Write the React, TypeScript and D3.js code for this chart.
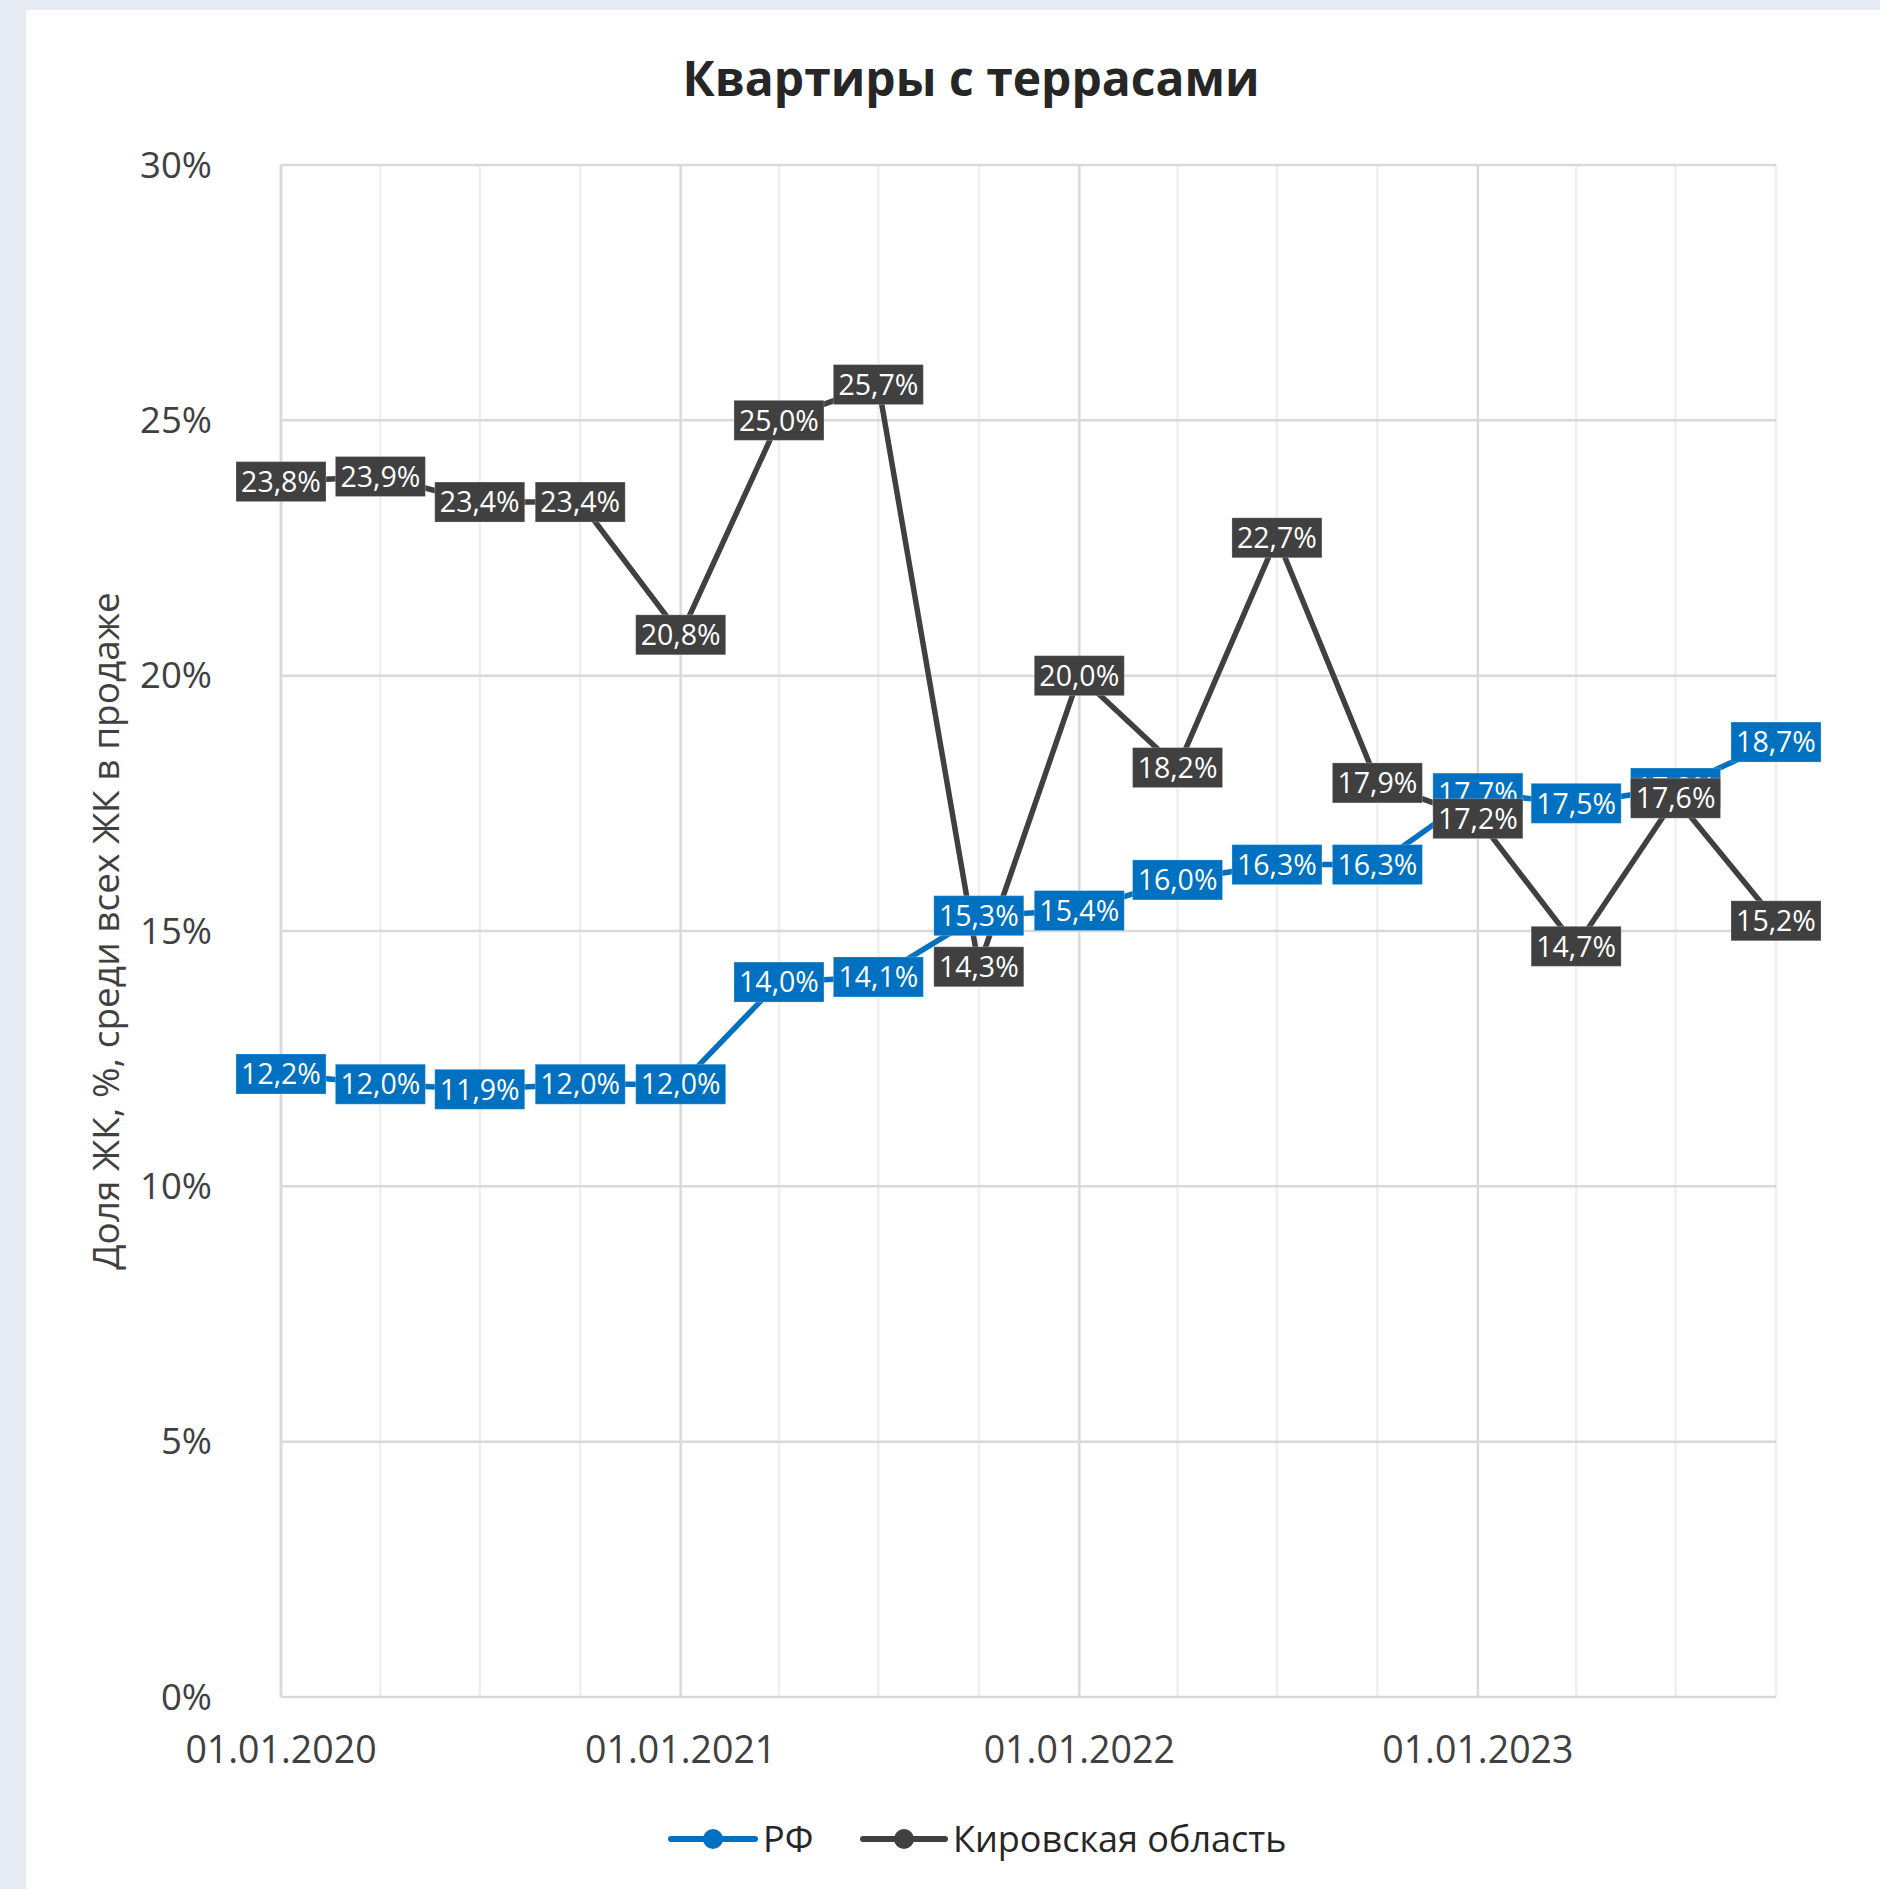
import * as d3 from 'd3';

const quarterDates = [
  '2020-01-01', '2020-04-01', '2020-07-01', '2020-10-01',
  '2021-01-01', '2021-04-01', '2021-07-01', '2021-10-01',
  '2022-01-01', '2022-04-01', '2022-07-01', '2022-10-01',
  '2023-01-01', '2023-04-01', '2023-07-01', '2023-10-01',
];
const rfValues = [12.2, 12.0, 11.9, 12.0, 12.0, 14.0, 14.1, 15.3, 15.4, 16.0, 16.3, 16.3, 17.7, 17.5, 17.8, 18.7];
const kirovValues = [23.8, 23.9, 23.4, 23.4, 20.8, 25.0, 25.7, 14.3, 20.0, 18.2, 22.7, 17.9, 17.2, 14.7, 17.6, 15.2];
const yTicks = [0, 5, 10, 15, 20, 25, 30];
const yearTicks = ['2020-01-01', '2021-01-01', '2022-01-01', '2023-01-01'];
const yearLabels = ['01.01.2020', '01.01.2021', '01.01.2022', '01.01.2023'];

const seriesNames = ['РФ', 'Кировская область'];
const seriesColors = ['#0070C0', '#404040'];

const W = 1880;
const H = 1889;
const margin = { left: 281, right: 1776, top: 165, bottom: 1697 };
const FONT = '"Open Sans", "Noto Sans", sans-serif';

const parse = d3.timeParse('%Y-%m-%d');
const fmt = (v: number) => v.toFixed(1).replace('.', ',') + '%';

export default function App() {
  const dates = quarterDates.map(d => parse(d) as Date);
  const x = d3.scaleTime()
    .domain([dates[0], dates[dates.length - 1]])
    .range([margin.left, margin.right]);
  const y = d3.scaleLinear().domain([0, 30]).range([margin.bottom, margin.top]);

  const series = [rfValues, kirovValues].map((vals, i) => ({
    name: seriesNames[i],
    color: seriesColors[i],
    points: vals.map((v, j) => ({ date: dates[j], value: v })),
  }));

  const line = d3.line<{ date: Date; value: number }>()
    .x(d => x(d.date))
    .y(d => y(d.value));

  const years = yearTicks.map(d => (parse(d) as Date).getTime());
  const boxW = 90;
  const boxH = 40;

  return (
    <svg width={W} height={H} style={{ position: 'absolute', left: 0, top: 0 }} fontFamily={FONT}>
      <rect x={0} y={0} width={W} height={H} fill="#e6eaf2" />
      <rect x={26} y={10} width={W - 26} height={H - 10} fill="#ffffff" />

      {/* title */}
      <text x={971} y={96} textAnchor="middle" fontSize={48} fontWeight={700} fill="#262626">
        Квартиры с террасами
      </text>

      {/* vertical grid: quarters light, years darker */}
      {dates.map((d, i) => {
        const major = years.includes(d.getTime());
        return (
          <line key={'vg' + i} x1={x(d)} x2={x(d)} y1={margin.top} y2={margin.bottom}
            stroke={major ? '#d9d9d9' : '#efefef'} strokeWidth={2.5} />
        );
      })}

      {/* horizontal grid */}
      {yTicks.map(t => (
        <line key={'hg' + t} x1={margin.left} x2={margin.right} y1={y(t)} y2={y(t)}
          stroke="#d9d9d9" strokeWidth={2.5} />
      ))}
      <line x1={margin.left} x2={margin.left} y1={margin.top} y2={margin.bottom} stroke="#d9d9d9" strokeWidth={2.5} />

      {/* y tick labels */}
      {yTicks.map(t => (
        <text key={'yt' + t} x={212} y={y(t)} dy="0.35em" textAnchor="end" fontSize={36.5} fill="#404040">
          {t + '%'}
        </text>
      ))}

      {/* x tick labels */}
      {yearTicks.map((d, i) => (
        <text key={'xt' + i} x={x(parse(d) as Date)} y={1750} dy="0.35em" textAnchor="middle" fontSize={37.5} fill="#404040">
          {yearLabels[i]}
        </text>
      ))}

      {/* y axis title */}
      <text transform={`translate(106, ${(margin.top + margin.bottom) / 2}) rotate(-90)`} dy="0.35em"
        textAnchor="middle" fontSize={37} fill="#404040">
        Доля ЖК, %, среди всех ЖК в продаже
      </text>

      {/* lines */}
      {series.map(s => (
        <path key={'l' + s.name} d={line(s.points) || ''} fill="none" stroke={s.color}
          strokeWidth={5.5} strokeLinejoin="round" />
      ))}
      {series.map(s => s.points.map((p, j) => (
        <circle key={'m' + s.name + j} cx={x(p.date)} cy={y(p.value)} r={9} fill={s.color} />
      )))}

      {/* data labels */}
      {series.map(s => s.points.map((p, j) => (
        <g key={'dl' + s.name + j} transform={`translate(${x(p.date)}, ${y(p.value)})`}>
          <rect x={-boxW / 2} y={-boxH / 2} width={boxW} height={boxH} fill={s.color}
            stroke="rgba(255,255,255,0.25)" strokeWidth={1} />
          <text x={0} y={0} dy="0.36em" textAnchor="middle" fontSize={28.5} fill="#ffffff">
            {fmt(p.value)}
          </text>
        </g>
      )))}

      {/* legend */}
      <g>
        <line x1={671} x2={755} y1={1839} y2={1839} stroke={seriesColors[0]} strokeWidth={6} strokeLinecap="round" />
        <circle cx={713} cy={1839} r={10} fill={seriesColors[0]} />
        <text x={763} y={1839} dy="0.35em" fontSize={36} fill="#262626">{seriesNames[0]}</text>
        <line x1={863} x2={945} y1={1839} y2={1839} stroke={seriesColors[1]} strokeWidth={6} strokeLinecap="round" />
        <circle cx={904} cy={1839} r={10} fill={seriesColors[1]} />
        <text x={953} y={1839} dy="0.35em" fontSize={36} fill="#262626">{seriesNames[1]}</text>
      </g>
    </svg>
  );
}
